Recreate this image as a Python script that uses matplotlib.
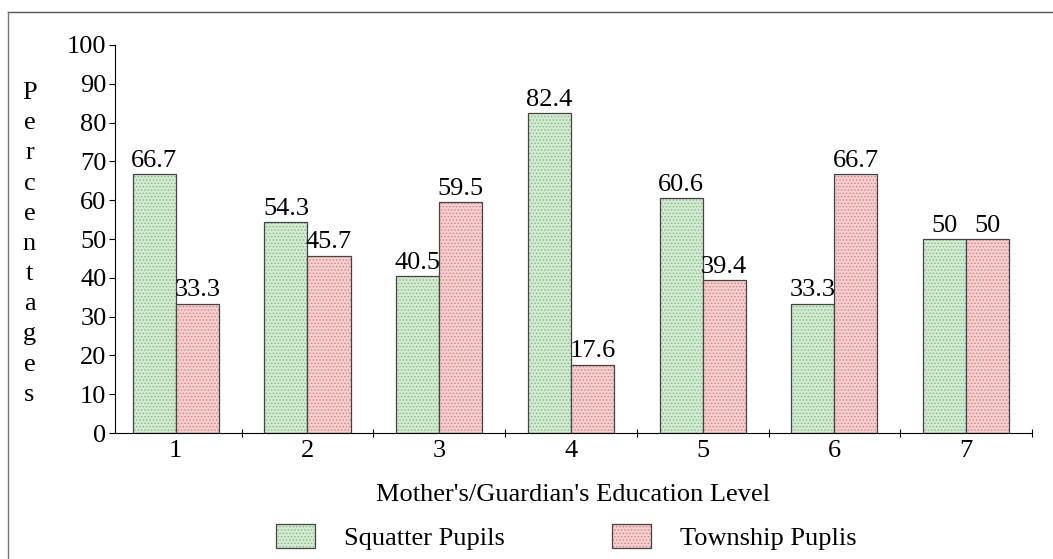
import matplotlib.pyplot as plt
import numpy as np
from matplotlib.lines import Line2D

levels = ['1', '2', '3', '4', '5', '6', '7']
squatter = [66.7, 54.3, 40.5, 82.4, 60.6, 33.3, 50]
township = [33.3, 45.7, 59.5, 17.6, 39.4, 66.7, 50]
series_names = ['Squatter Pupils', 'Township Puplis']

plt.rcParams['font.family'] = ['Liberation Serif', 'DejaVu Serif']
plt.rcParams['hatch.linewidth'] = 0.6
fs = 19

fig = plt.figure(figsize=(10.53, 5.59), dpi=100)
ax = fig.add_axes([0.109, 0.2254, 0.871, 0.6941])

x = np.arange(1, len(levels) + 1)
w = 0.327
green = '#d3ebd3'
red = '#f3cfcf'

b1 = ax.bar(x - w / 2, squatter, w, color=green, edgecolor='#444444',
            linewidth=0.9, hatch='.....', label=series_names[0])
b2 = ax.bar(x + w / 2, township, w, color=red, edgecolor='#444444',
            linewidth=0.9, hatch='.....', label=series_names[1])
for p in b1:
    p._hatch_color = (0.5, 0.72, 0.5, 1)
for p in b2:
    p._hatch_color = (0.85, 0.5, 0.5, 1)

for bars, vals in ((b1, squatter), (b2, township)):
    for bar, v in zip(bars, vals):
        ax.text(bar.get_x() + bar.get_width() / 2, v + 0.6, f'{v:g}',
                ha='center', va='bottom', fontsize=fs)

ax.set_xlim(0.537, 7.5)
ax.set_ylim(0, 100)
ax.set_xticks(x)
ax.set_xticklabels(levels, fontsize=fs)
ax.set_xticks(x + 0.5, minor=True)
ax.set_yticks(range(0, 101, 10))
ax.tick_params(axis='y', labelsize=fs, length=4, width=0.8, pad=2)
ax.tick_params(axis='x', which='major', length=0, pad=5)
ax.tick_params(axis='x', which='minor', length=6, direction='inout', width=0.8)
for s in ('top', 'right'):
    ax.spines[s].set_visible(False)
ax.spines['left'].set_linewidth(0.8)
ax.spines['bottom'].set_linewidth(0.8)

ax.set_xlabel("Mother's/Guardian's Education Level", fontsize=fs, labelpad=16)
fig.text(0.028, 0.853, '\n'.join('Percentages'), fontsize=fs, ha='center',
         va='top', linespacing=1.48)

leg = fig.legend(handles=[b1, b2], labels=series_names, loc='center',
                 bbox_to_anchor=(0.538, 0.039), ncol=2, frameon=False,
                 fontsize=fs, handlelength=1.48, handleheight=1.0,
                 columnspacing=4.05, handletextpad=1.1)

fig.add_artist(Line2D([0.008, 1.0], [0.978, 0.978], color='#555555', lw=1))
fig.add_artist(Line2D([0.008, 0.008], [0.0, 0.978], color='#777777', lw=1))

fig.savefig('out.png', dpi=100)
